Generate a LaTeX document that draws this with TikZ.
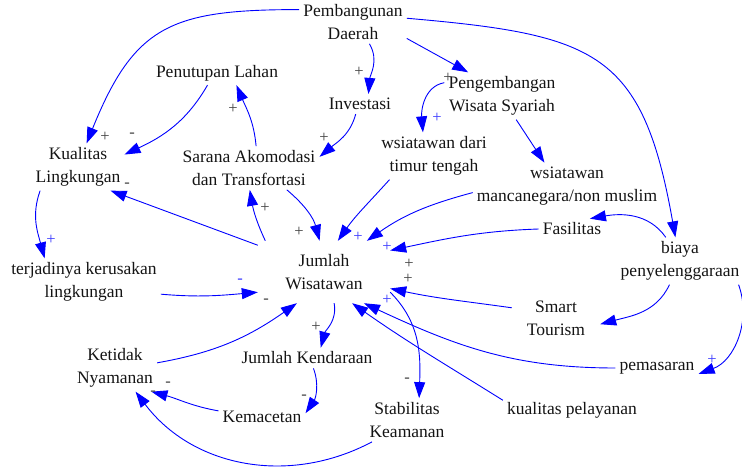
\documentclass[tikz,border=0pt]{standalone}
\usepackage{fontspec}
\setmainfont{Liberation Serif}
\usetikzlibrary{arrows.meta,shapes.geometric}
\definecolor{lnblue}{RGB}{0,0,255}
\definecolor{sgblue}{RGB}{60,60,255}
\definecolor{txt}{RGB}{20,20,20}
\begin{document}
\begin{tikzpicture}[x=1pt,y=1pt,
  v/.style={font=\fontsize{17.5}{23}\selectfont, align=center, inner sep=4pt, text=txt},
  arr/.style={draw=lnblue, line width=0.9pt, -{Triangle[length=16pt,width=11pt]}},
  sg/.style={font=\fontsize{16.5}{18}\selectfont, inner sep=0pt, text=txt!80},
  sgb/.style={sg, text=sgblue}]
\useasboundingbox (0,0) rectangle (742,-470);

% nodes
\node[v] (pd) at (353,-22) {Pembangunan\\Daerah};
\node[v] (pl) at (217,-73) {Penutupan Lahan};
\node[v] (inv) at (360,-104) {Investasi};
\node[v] (kl) at (78,-167) {Kualitas\\Lingkungan};
\node[v] (sa) at (249,-168) {Sarana Akomodasi\\dan Transfortasi};
\node[v] (pw) at (502,-96) {Pengembangan\\Wisata Syariah};
\node[v] (tt) at (434,-156) {wsiatawan dari\\timur tengah};
\node[v] (mn) at (567,-186) {wsiatawan\\mancanegara/non muslim};
\node[v] (fa) at (572,-229) {Fasilitas};
\node[v] (bp) at (680,-261) {biaya\\penyelenggaraan};
\node[v, minimum width=132pt, minimum height=62pt, inner sep=0pt] (jw) at (324,-272) {Jumlah\\Wisatawan};
\node[v] (tk) at (84,-282) {terjadinya kerusakan\\lingkungan};
\node[v, minimum width=88pt] (st) at (556,-318) {Smart\\Tourism};
\node[v] (pm) at (657,-368) {pemasaran};
\node[v] (kn) at (115,-368) {Ketidak\\Nyamanan};
\node[v] (jk) at (307,-358) {Jumlah Kendaraan};
\node[v] (km) at (262,-417) {Kemacetan};
\node[v] (sk) at (407,-420) {Stabilitas\\Keamanan};
\node[v] (kp) at (572,-410) {kualitas pelayanan};

% connectors
\draw[arr] (pd.167) to[out=180,in=68,looseness=1.3] (kl.70);
\draw[arr] (pl.232) to[out=240,in=25] (kl.15);
\draw[arr] (pd.-53) to[out=-60,in=85] (inv.50);
\draw[arr] (inv.247) to[out=-105,in=40] (sa.9);
\draw[arr] (sa.72) to[out=95,in=-67] (pl.-32);
\draw[arr] (jw.152) to[out=115,in=-80] (sa.-88);
\draw[arr] (sa.-30) to[out=-40,in=105] (jw.98);
\draw[arr] (jw.158) -- (kl.-36);
\draw[arr] (kl.212) to[out=250,in=105] (tk.149);
\draw[arr] (tk.-9.5) to[out=-5,in=185] (jw.-163);
\draw[arr] (kn.7) to[out=10,in=215] (jw.-131);
\draw[arr] (jw.-72) to[out=-80,in=75] (jk.37);
\draw[arr] (jk.-58) to[out=-70,in=56] (km.5);
\draw[arr] (km.172) to[out=170,in=-15] (kn.-33);
\draw[arr] (sk.212) to[out=208,in=-53] (kn.-49);
\draw[arr] (jw.-17) to[out=-45,in=88] (sk.61);
\draw[arr] (kp.172) to[out=148,in=-35] (jw.-48);
\draw[arr] (pm.180) to[out=180,in=-25] (jw.-38);
\draw[arr] (st.167) to[out=172,in=-12] (jw.-14);
\draw[arr] (fa.180) to[out=182,in=12] (jw.18);
\draw[arr] (mn.184) to[out=195,in=35] (jw.36);
\draw[arr] (tt.208) to[out=228,in=55] (jw.66);
\draw[arr] (pd.-17) -- (pw.145);
\draw[arr] (pw.167) to[out=190,in=95] (tt.115);
\draw[arr] (pw.-59) -- (mn.134);
\draw[arr] (pd.4) to[out=-5,in=100,looseness=1.4] (bp.101);
\draw[arr] (bp.121) to[out=125,in=10] (fa.30);
\draw[arr] (bp.246) to[out=245,in=15] (st.-8);
\draw[arr] (bp.-22) to[out=-70,in=20] (pm.-8);

% polarity signs
\node[sg] (s1) at (105,-137) {+};
\node[sg] (s2) at (132,-135) {-};
\node[sg] (s3) at (359,-72) {+};
\node[sg] (s4) at (324,-138) {+};
\node[sg] (s5) at (233,-109) {+};
\node[sg] (s6) at (265,-208) {+};
\node[sg] (s7) at (299,-232) {+};
\node[sg] (s8) at (127,-185) {-};
\node[sg] (s9) at (266,-301) {-};
\node[sg] (s10) at (316,-327) {+};
\node[sg] (s11) at (304,-397) {-};
\node[sg] (s12) at (168,-384) {-};
\node[sg] (s13) at (153,-393) {-};
\node[sg] (s14) at (407,-380) {-};
\node[sg] (s15) at (409,-264) {+};
\node[sg] (s16) at (408,-279) {+};
\node[sg] (s17) at (448,-78) {+};
\node[sgb] (b1) at (51,-240) {+};
\node[sgb] (b2) at (240,-281) {-};
\node[sgb] (b3) at (387,-300) {+};
\node[sgb] (b4) at (387,-247) {+};
\node[sgb] (b5) at (358,-237) {+};
\node[sgb] (b6) at (437,-118) {+};
\node[sgb] (b7) at (712,-360) {+};
\end{tikzpicture}
\end{document}
